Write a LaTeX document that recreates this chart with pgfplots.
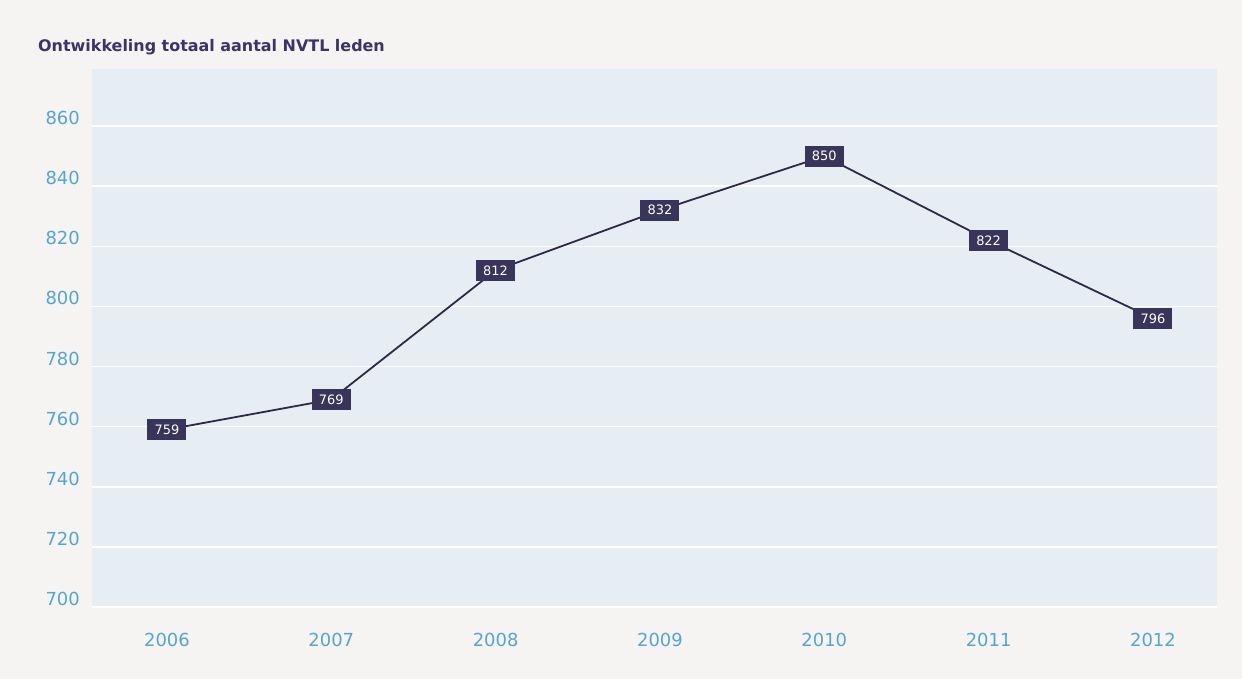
\documentclass[border=0pt]{standalone}
\usepackage{pgfplots}
\pgfplotsset{compat=1.18}
\usepackage{fontspec}
\setmainfont{DejaVu Sans}
\newfontfamily\titlefont{DejaVu Sans}
\definecolor{pagebg}{HTML}{F6F4F2}
\definecolor{plotbg}{HTML}{E6EEF3}
\definecolor{tickcol}{HTML}{55A5D0}
\definecolor{titlecol}{HTML}{3B3468}
\definecolor{linecol}{HTML}{2E2945}
\definecolor{boxcol}{HTML}{38345A}
\begin{document}
\begin{tikzpicture}[x=1bp,y=1bp]
\fill[pagebg] (0,0) rectangle (1242,679);
\useasboundingbox (0,0) rectangle (1242,679);
\node[anchor=base west, font=\titlefont\bfseries\fontsize{16}{19}\selectfont, text=titlecol, inner sep=0] at (38,627) {Ontwikkeling totaal aantal NVTL leden};
\begin{axis}[
  at={(92bp,72bp)}, anchor=south west,
  scale only axis, width=1125bp, height=538bp,
  xmin=-0.456, xmax=6.39, ymin=700, ymax=879,
  axis background/.style={fill=plotbg},
  axis line style={draw=none},
  tick style={draw=none},
  ytick={700,720,...,860},
  ymajorgrids,
  grid style={white, line width=1.5bp},
  xtick={0,...,6},
  xticklabels={2006,2007,2008,2009,2010,2011,2012},
  /pgf/number format/assume math mode=true,
  /pgf/number format/1000 sep={},
  ticklabel style={font=\fontsize{18}{20}\selectfont, text=tickcol},
  xticklabel style={anchor=center, yshift=-33bp},
  yticklabel style={anchor=east, inner sep=0pt, xshift=-12bp, yshift=8bp},
  nodes near coords,
  nodes near coords style={anchor=center, fill=boxcol, text=white,
    font=\fontsize{13}{15}\selectfont, minimum width=39bp, minimum height=21bp, inner sep=0pt},
  clip=false,
]
\addplot[color=linecol, line width=1.8bp, mark=none] coordinates {
  (0,759) (1,769) (2,812) (3,832) (4,850) (5,822) (6,796)
};
\end{axis}
\end{tikzpicture}
\end{document}
